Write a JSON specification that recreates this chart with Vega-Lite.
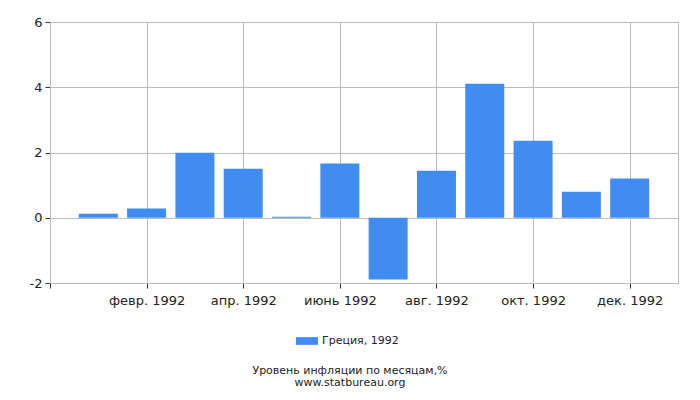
{
  "$schema": "https://vega.github.io/schema/vega-lite/v6.json",
  "description": "Уровень инфляции по месяцам, Греция 1992",
  "autosize": "none",
  "width": 628,
  "height": 261,
  "padding": {"left": 50, "top": 22, "right": 22, "bottom": 117},
  "background": "white",
  "config": {
    "font": "DejaVu Sans",
    "view": {"stroke": "#bbbbbb"},
    "axis": {
      "gridColor": "#bbbbbb",
      "gridOpacity": 1,
      "domainColor": "#bbbbbb",
      "tickColor": "#333333",
      "tickSize": 5,
      "labelColor": "#222222",
      "labelFontSize": 13,
      "labelFont": "DejaVu Sans",
      "title": null
    }
  },
  "data": {
    "values": [
      {"m": 1, "month": "янв. 1992", "series": "Греция, 1992", "value": 0.12},
      {"m": 2, "month": "февр. 1992", "series": "Греция, 1992", "value": 0.28},
      {"m": 3, "month": "март 1992", "series": "Греция, 1992", "value": 1.99},
      {"m": 4, "month": "апр. 1992", "series": "Греция, 1992", "value": 1.5},
      {"m": 5, "month": "май 1992", "series": "Греция, 1992", "value": 0.03},
      {"m": 6, "month": "июнь 1992", "series": "Греция, 1992", "value": 1.66},
      {"m": 7, "month": "июль 1992", "series": "Греция, 1992", "value": -1.89},
      {"m": 8, "month": "авг. 1992", "series": "Греция, 1992", "value": 1.44},
      {"m": 9, "month": "сент. 1992", "series": "Греция, 1992", "value": 4.11},
      {"m": 10, "month": "окт. 1992", "series": "Греция, 1992", "value": 2.36},
      {"m": 11, "month": "нояб. 1992", "series": "Греция, 1992", "value": 0.8},
      {"m": 12, "month": "дек. 1992", "series": "Греция, 1992", "value": 1.2}
    ]
  },
  "title": {
    "text": "Уровень инфляции по месяцам,%",
    "subtitle": "www.statbureau.org",
    "orient": "bottom",
    "anchor": "middle",
    "dx": -14,
    "offset": 19,
    "font": "DejaVu Sans",
    "fontSize": 11,
    "fontWeight": "normal",
    "color": "#222222",
    "subtitleFont": "DejaVu Sans",
    "subtitleFontSize": 11,
    "subtitleColor": "#222222",
    "subtitlePadding": 1
  },
  "mark": {"type": "bar", "width": 39},
  "encoding": {
    "x": {
      "field": "m",
      "type": "quantitative",
      "scale": {"domain": [0, 13], "nice": false, "zero": false, "padding": 0},
      "axis": {
        "values": [0, 2, 4, 6, 8, 10, 12],
        "labelExpr": "['','янв. 1992','февр. 1992','март 1992','апр. 1992','май 1992','июнь 1992','июль 1992','авг. 1992','сент. 1992','окт. 1992','нояб. 1992','дек. 1992'][datum.value]",
        "labelPadding": 6,
        "grid": true
      }
    },
    "y": {
      "field": "value",
      "type": "quantitative",
      "scale": {"domain": [-2, 6], "nice": false},
      "axis": {
        "values": [-2, 0, 2, 4, 6],
        "labelExpr": "'' + datum.value",
        "labelPadding": 3,
        "grid": true
      }
    },
    "color": {
      "field": "series",
      "type": "nominal",
      "scale": {"range": ["#418cf0"]},
      "legend": {
        "title": null,
        "orient": "none",
        "legendX": 246,
        "legendY": 308,
        "padding": 0,
        "symbolType": "M-1,-0.35L1,-0.35L1,0.35L-1,0.35Z",
        "symbolSize": 484,
        "symbolStrokeWidth": 0,
        "labelFont": "DejaVu Sans",
        "labelFontSize": 11,
        "labelColor": "#222222",
        "labelOffset": 4
      }
    },
    "tooltip": [
      {"field": "month", "type": "nominal"},
      {"field": "value", "type": "quantitative"}
    ]
  }
}
